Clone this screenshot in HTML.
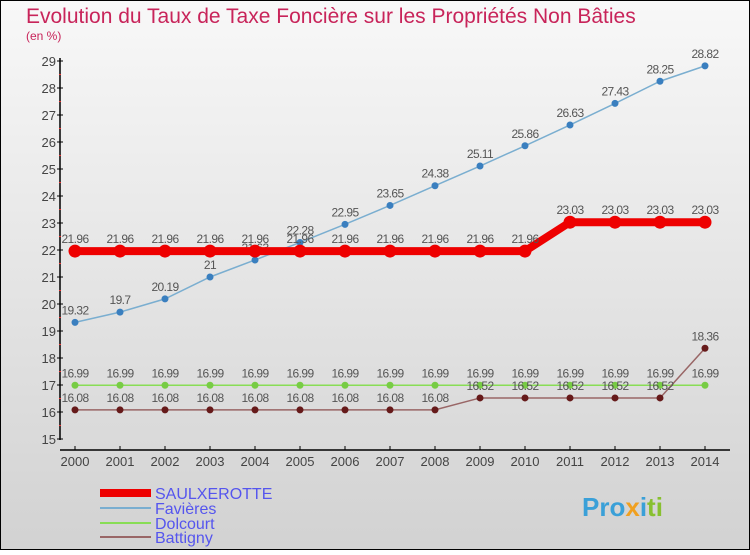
<!DOCTYPE html>
<html><head><meta charset="utf-8"><style>
html,body{margin:0;padding:0}
body{width:750px;height:550px;overflow:hidden;font-family:"Liberation Sans",sans-serif}
</style></head><body>
<svg width="750" height="550" xmlns="http://www.w3.org/2000/svg" font-family="Liberation Sans, sans-serif">
<defs><linearGradient id="bg" x1="0" y1="0" x2="0" y2="1"><stop offset="0" stop-color="#f8f8f8"/><stop offset="1" stop-color="#d2d2d2"/></linearGradient></defs>
<rect x="0.5" y="0.5" width="749" height="549" fill="url(#bg)" stroke="#000"/>
<text x="26" y="23" font-size="21" fill="#c8245a">Evolution du Taux de Taxe Foncière sur les Propriétés Non Bâties</text>
<text x="26" y="40" font-size="12" fill="#c8245a">(en %)</text>
<g id="axes"></g>
<g id="series"></g>
<g id="legend" font-size="16" fill="#5555ee">
<line x1="100" y1="493" x2="151" y2="493" stroke="#ee0000" stroke-width="8"/>
<text x="155" y="499">SAULXEROTTE</text>
<line x1="100" y1="508" x2="151" y2="508" stroke="#7aaed0" stroke-width="2"/>
<text x="155" y="514">Favières</text>
<line x1="100" y1="523" x2="151" y2="523" stroke="#88dd55" stroke-width="2"/>
<text x="155" y="529">Dolcourt</text>
<line x1="100" y1="537" x2="151" y2="537" stroke="#996666" stroke-width="2"/>
<text x="155" y="543">Battigny</text>
</g>
<g font-size="26" font-weight="bold">
<text x="582" y="516"><tspan fill="#3aa0d8">Pro</tspan><tspan fill="#f0a020">x</tspan><tspan fill="#3aa0d8">i</tspan><tspan fill="#88c030">ti</tspan></text>
</g>
</svg>
<script>
const years=[2000,2001,2002,2003,2004,2005,2006,2007,2008,2009,2010,2011,2012,2013,2014];
const yTicks=[15,16,17,18,19,20,21,22,23,24,25,26,27,28,29];
const saulx=[21.96,21.96,21.96,21.96,21.96,21.96,21.96,21.96,21.96,21.96,21.96,23.03,23.03,23.03,23.03];
const favieres=[19.32,19.7,20.19,21,21.63,22.28,22.95,23.65,24.38,25.11,25.86,26.63,27.43,28.25,28.82];
const dolcourt=[16.99,16.99,16.99,16.99,16.99,16.99,16.99,16.99,16.99,16.99,16.99,16.99,16.99,16.99,16.99];
const battigny=[16.08,16.08,16.08,16.08,16.08,16.08,16.08,16.08,16.08,16.52,16.52,16.52,16.52,16.52,18.36];
const NS='http://www.w3.org/2000/svg';
const xs=i=>75+i*45;
const ys=v=>439-(v-15)*27;
function mk(t,a,p){const e=document.createElementNS(NS,t);for(const k in a)e.setAttribute(k,a[k]);p.appendChild(e);return e;}
const ax=document.getElementById('axes');
let yl=mk('line',{x1:60,y1:58,x2:60,y2:440,stroke:'#000','stroke-width':1.5},ax);


yTicks.forEach(v=>{
 mk('line',{x1:57,y1:ys(v),x2:63,y2:ys(v),stroke:'#000'},ax);
 if(v<29)mk('line',{x1:59,y1:ys(v+0.5),x2:61,y2:ys(v+0.5),stroke:'#e33'},ax);
 const t=mk('text',{x:56,y:ys(v)+5,'text-anchor':'end','font-size':13,fill:'#444'},ax);t.textContent=v;
 
 
});
let xl=mk('line',{x1:60,y1:450,x2:730,y2:450,stroke:'#000','stroke-width':1.5},ax);


years.forEach((y,i)=>{
 mk('line',{x1:xs(i),y1:446,x2:xs(i),y2:450,stroke:'#000'},ax);
 const t=mk('text',{x:xs(i),y:466,'text-anchor':'middle','font-size':13,fill:'#444'},ax);t.textContent=y;
 
 
});
const sg=document.getElementById('series');
function series(name,data,color,w,r,ptColor){
 const g=mk('g',{},sg);
 
 
 const pl=mk('polyline',{points:data.map((v,i)=>xs(i)+','+ys(v)).join(' '),fill:'none',stroke:color,'stroke-width':w},g);
 
 
 data.forEach((v,i)=>{
  const c=mk('circle',{cx:xs(i),cy:ys(v),r:r,fill:ptColor},g);
  
  
  const t=mk('text',{x:xs(i),y:ys(v)-8,'text-anchor':'middle','font-size':12,fill:'#555','letter-spacing':'-0.6'},g);
  t.textContent=v;
  
  
 });
}
series('favieres',favieres,'#7aaed0',1.5,3.5,'#3a7fbf');
series('dolcourt',dolcourt,'#88dd55',1.5,3.5,'#77cc44');
series('battigny',battigny,'#996666',1.5,3.5,'#661a1a');
series('saulxerotte',saulx,'#ee0000',8,6.5,'#ee0000');
</script>
</body></html>
